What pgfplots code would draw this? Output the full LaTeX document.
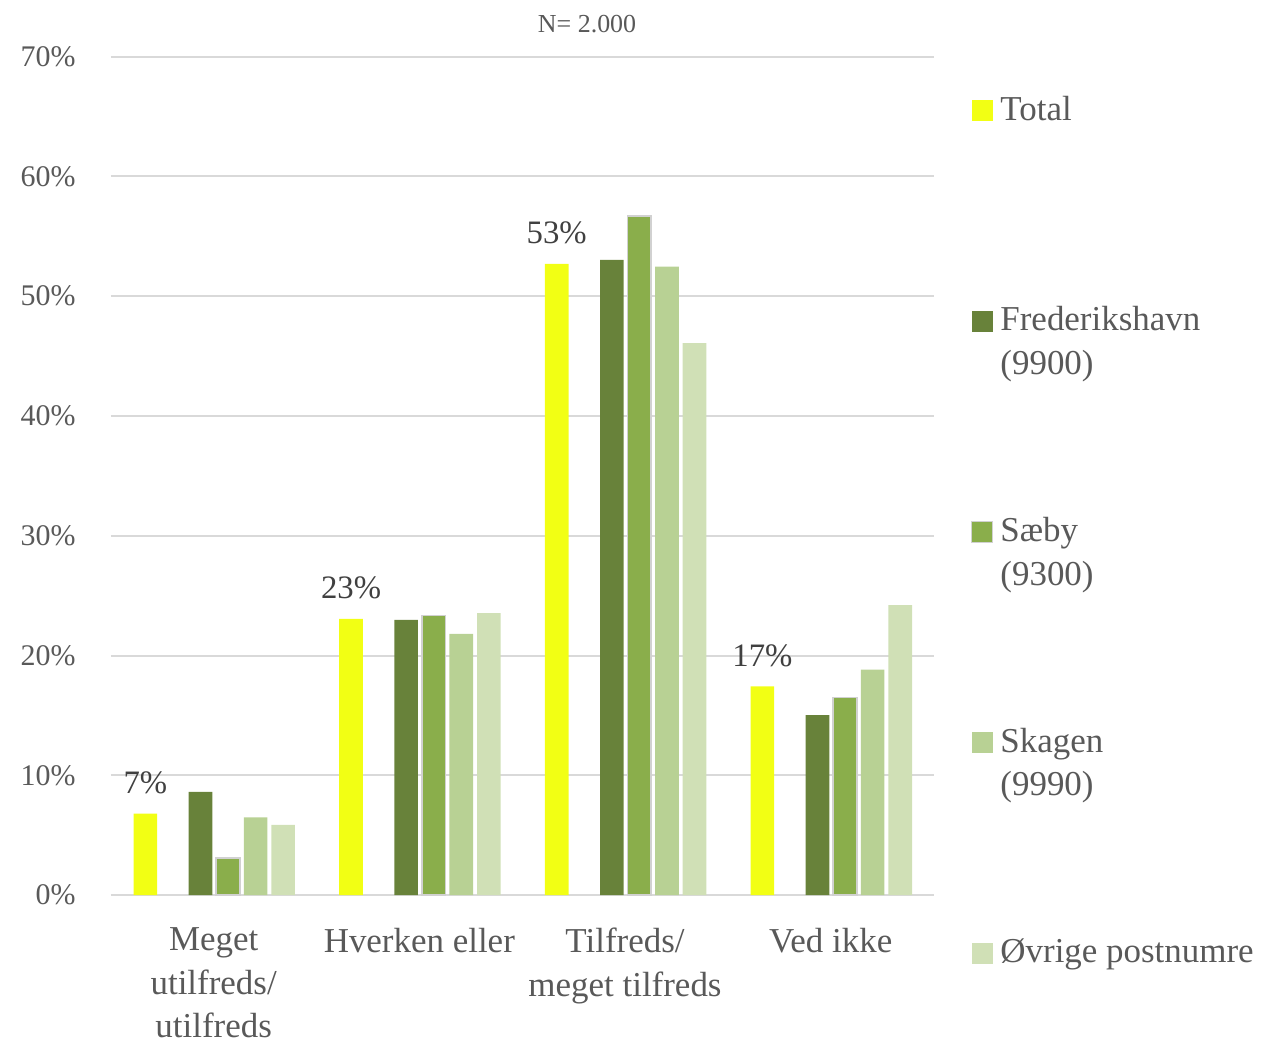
\documentclass[border=0pt]{standalone}
\usepackage{fontspec}
\setmainfont{Liberation Serif}
\usepackage{pgfplots}
\pgfplotsset{compat=1.18}
\definecolor{cTotal}{HTML}{F2FF14}
\definecolor{cFred}{HTML}{68823A}
\definecolor{cSaeby}{HTML}{8AAE4B}
\definecolor{cSkagen}{HTML}{B8D194}
\definecolor{cOvrige}{HTML}{D0E0B6}
\definecolor{txtgrey}{HTML}{595959}
\definecolor{lblgrey}{HTML}{404040}
\definecolor{gridgrey}{HTML}{D9D9D9}

\begin{document}
\begin{tikzpicture}
\path[use as bounding box] (-55.5pt,-75.5pt) rectangle (578.5pt,448.3pt);
\begin{axis}[
  at={(0,0)}, anchor=south west,
  scale only axis, width=412pt, height=420pt,
  ybar, bar width=11.85pt,
  xmin=-0.5, xmax=3.5, ymin=0, ymax=70,
  xtick={0,1,2,3},
  xticklabels={{Meget\\utilfreds/\\utilfreds},{Hverken eller},{Tilfreds/\\meget tilfreds},{Ved ikke}},
  ytick={0,10,...,70},
  yticklabels={0\%,10\%,20\%,30\%,40\%,50\%,60\%,70\%},
  axis line style={draw=none},
  tick style={draw=none},
  ymajorgrids, grid style={draw=gridgrey, line width=1pt},
  yticklabel style={anchor=east, inner sep=0pt, xshift=-17.5pt, text=txtgrey, font=\fontsize{15}{18}\selectfont},
  xticklabel style={anchor=north, inner sep=0pt, yshift=-12pt, align=center, text=txtgrey,
    font=\fontsize{17.5}{21.75}\selectfont},
  legend image code/.code={\fill[#1] (0pt,-0.5pt) rectangle (10.5pt,10pt);},
  legend style={at={(1,1)}, anchor=north west, xshift=18.5pt, yshift=-18.75pt,
    draw=none, fill=none, inner sep=0pt, row sep=62.5pt, column sep=3.5pt,
    font=\fontsize{17.5}{21.75}\selectfont, text=txtgrey,
    nodes={inner sep=0pt, text width=170pt, align=flush left, text height=13pt, text depth=30pt},
    cells={anchor=base west}},
]
\addplot[fill=cTotal, draw=none, bar shift=-34.2pt, point meta=y,
  nodes near coords={\pgfmathprintnumber[assume math mode=true,fixed,precision=0]{\pgfplotspointmeta}\%},
  nodes near coords style={anchor=base, yshift=10pt, inner sep=0pt, text=lblgrey, font=\fontsize{16.4}{19}\selectfont}]
  coordinates {(0,6.81) (1,23.06) (2,52.70) (3,17.42)};
\addlegendentry{Total}
\addplot[fill=cFred, draw=none, bar shift=-6.6pt]
  coordinates {(0,8.62) (1,22.98) (2,53.03) (3,15.03)};
\addlegendentry{Frederikshavn\\(9900)}
\addplot[fill=cSaeby, draw=black!18, line width=0.8pt, bar shift=7.2pt]
  coordinates {(0,3.08) (1,23.35) (2,56.67) (3,16.50)};
\addlegendentry{Sæby\\(9300)}
\addplot[fill=cSkagen, draw=none, bar shift=21.0pt]
  coordinates {(0,6.50) (1,21.80) (2,52.47) (3,18.83)};
\addlegendentry{Skagen\\(9990)}
\addplot[fill=cOvrige, draw=none, bar shift=34.8pt]
  coordinates {(0,5.87) (1,23.55) (2,46.08) (3,24.22)};
\addlegendentry{Øvrige postnumre}
\end{axis}
\node[anchor=base, text=txtgrey, font=\fontsize{13}{15}\selectfont] at (238.5pt,432.25pt) {N= 2.000};
\end{tikzpicture}
\end{document}
